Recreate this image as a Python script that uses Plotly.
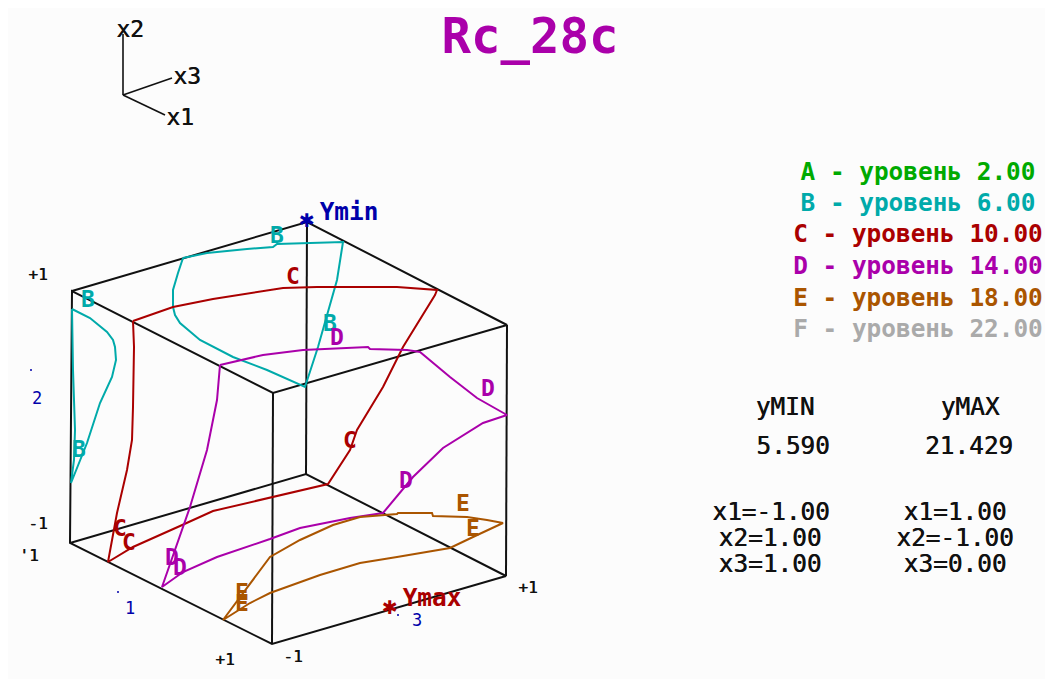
import plotly.graph_objects as go

CUBE_X = [72, 307, 507, 273, 72, 70, 272, 506, 306, 70]
CUBE_Y = [291, 222, 325, 393, 291, 543, 644, 576, 474, 543]
CUBE_EDGE_X = [[307, 306], [507, 506], [273, 272]]
CUBE_EDGE_Y = [[222, 474], [325, 576], [393, 644]]
TRIAD_X = [[123, 123], [123, 172], [123, 165]]
TRIAD_Y = [[34, 95], [95, 78], [95, 115]]

B_LEFT_X = [72, 90, 107, 113, 115, 116, 112, 100, 87, 71, 74, 75, 73, 72]
B_LEFT_Y = [309, 318, 332, 340, 347, 360, 377, 403, 443, 483, 460, 430, 370, 309]
B_TOP_X = [183, 207, 247, 273, 277, 317, 343, 337, 318, 305, 267, 233, 200, 180, 175, 173, 173, 178, 183]
B_TOP_Y = [258, 253, 249, 247, 244, 243, 242, 280, 347, 387, 370, 357, 340, 323, 315, 307, 290, 273, 258]
C_X = [133, 173, 213, 257, 283, 317, 397, 437, 435, 403, 383, 357, 350, 328, 270, 213, 180, 133, 108, 117, 127, 132, 133, 134, 133]
C_Y = [321, 307, 299, 292, 288, 287, 287, 290, 295, 347, 387, 430, 450, 484, 498, 511, 526, 547, 562, 513, 470, 440, 407, 347, 321]
D_X = [220, 263, 303, 368, 370, 407, 420, 450, 477, 507, 483, 443, 413, 383, 350, 300, 270, 217, 183, 162, 190, 207, 217, 220]
D_Y = [365, 355, 350, 347, 349, 350, 352, 377, 398, 415, 423, 448, 477, 513, 518, 528, 539, 557, 572, 587, 507, 450, 400, 365]
E_X = [223, 240, 270, 300, 333, 360, 383, 397, 398, 432, 433, 467, 487, 503, 473, 450, 397, 360, 320, 270, 250, 223]
E_Y = [620, 597, 557, 540, 525, 517, 515, 514, 513, 513, 516, 517, 520, 523, 537, 548, 557, 563, 575, 593, 603, 620]

TEAL, RED, MAG, BROWN = "#00aaaa", "#aa0000", "#aa00aa", "#aa5500"
GREEN, GRAY, BLUE, BLACK = "#00aa00", "#aaaaaa", "#0000aa", "#111111"

CURVE_TEXT = ["B", "B", "B", "B", "C", "C", "C", "C", "D", "D", "D", "D", "D", "E", "E", "E", "E"]
CURVE_TX = [277, 88, 330, 79, 293, 350, 120, 129, 337, 488, 406, 172, 180, 463, 473, 242, 242]
CURVE_TY = [237, 301, 325, 451, 278, 442, 530, 544, 339, 390, 482, 559, 569, 505, 530, 594, 605]
CURVE_COL = [TEAL] * 4 + [RED] * 4 + [MAG] * 5 + [BROWN] * 4

LEG_TEXT = ["A - уровень 2.00", "B - уровень 6.00", "C - уровень 10.00", "D - уровень 14.00", "E - уровень 18.00", "F - уровень 22.00"]
LEG_X = [918, 918, 918, 918, 918, 918]
LEG_Y = [174, 205, 236, 268, 300, 331]
LEG_COL = [GREEN, TEAL, RED, MAG, BROWN, GRAY]

TAB_TEXT = ["yMIN", "yMAX", "5.590", "21.429", "x1=-1.00", "x2=1.00", "x3=1.00", "x1=1.00", "x2=-1.00", "x3=0.00"]
TAB_X = [785, 970, 793, 969, 771, 770, 770, 955, 955, 955]
TAB_Y = [409, 409, 448, 448, 514, 540, 566, 514, 540, 566]

TRIAD_TEXT = ["x2", "x3", "x1"]
TRIAD_TX = [130, 187, 180]
TRIAD_TY = [31, 78, 119]
AX_TEXT = ["+1", "-1", "'1", "+1", "-1", "+1"]
AX_X = [38, 38, 29, 225, 293, 528]
AX_Y = [276, 525, 557, 661, 658, 589]
IDX_TEXT = ["2", "1", "3"]
IDX_X = [37, 130, 417]
IDX_Y = [400, 610, 622]
DOT_X = [31, 118, 398]
DOT_Y = [370, 592, 615]

fig = go.Figure()


def line(x, y, color, width=2):
    fig.add_trace(go.Scatter(x=x, y=y, mode="lines", line=dict(color=color, width=width), hoverinfo="skip"))


def text(x, y, labels, color, size, family="DejaVu Sans Mono", bold=True, shadow=None):
    if bold:
        labels = [f"<b>{t}</b>" for t in labels]
    font = dict(color=color, size=size, family=family)
    if shadow:
        font["shadow"] = shadow
    fig.add_trace(go.Scatter(x=x, y=y, text=labels, mode="text", textposition="middle center",
                             textfont=font, hoverinfo="skip"))


line(CUBE_X, CUBE_Y, BLACK)
for ex, ey in zip(CUBE_EDGE_X, CUBE_EDGE_Y):
    line(ex, ey, BLACK)
for ex, ey in zip(TRIAD_X, TRIAD_Y):
    line(ex, ey, BLACK, 1.6)
line(B_LEFT_X, B_LEFT_Y, TEAL)
line(B_TOP_X, B_TOP_Y, TEAL)
line(C_X, C_Y, RED)
line(D_X, D_Y, MAG)
line(E_X, E_Y, BROWN)

THICK = "0.5px 0 0 #111111"
text(CURVE_TX, CURVE_TY, CURVE_TEXT, CURVE_COL, 23)
text(LEG_X, LEG_Y, LEG_TEXT, LEG_COL, 24.4)
text(TAB_X, TAB_Y, TAB_TEXT, BLACK, 24.4, bold=False, shadow=THICK)
text([530], [41], ["Rc_28c"], MAG, 49)
text(TRIAD_TX, TRIAD_TY, TRIAD_TEXT, BLACK, 23, bold=False, shadow=THICK)
text(AX_X, AX_Y, AX_TEXT, BLACK, 16, bold=False, shadow=THICK)
text(IDX_X, IDX_Y, IDX_TEXT, BLUE, 17, bold=False)
text([349], [214], ["Ymin"], BLUE, 24.4)
text([432], [600], ["Ymax"], RED, 24.4)
text([307], [222], ["✱"], BLUE, 19, family="DejaVu Sans")
text([390], [609], ["✱"], RED, 19, family="DejaVu Sans")
fig.add_trace(go.Scatter(x=DOT_X, y=DOT_Y, mode="markers", marker=dict(color=BLUE, size=2), hoverinfo="skip"))

fig.update_layout(
    width=1045, height=679, showlegend=False,
    margin=dict(l=8, r=0, t=8, b=0),
    paper_bgcolor="#ffffff", plot_bgcolor="#fcfcfc",
    xaxis=dict(range=[8, 1045], visible=False, fixedrange=True),
    yaxis=dict(range=[679, 8], visible=False, fixedrange=True),
)
fig.write_html("out.html", config={"displayModeBar": False}, default_width="1045px", default_height="679px",
               post_script="document.body.style.margin='0';")
